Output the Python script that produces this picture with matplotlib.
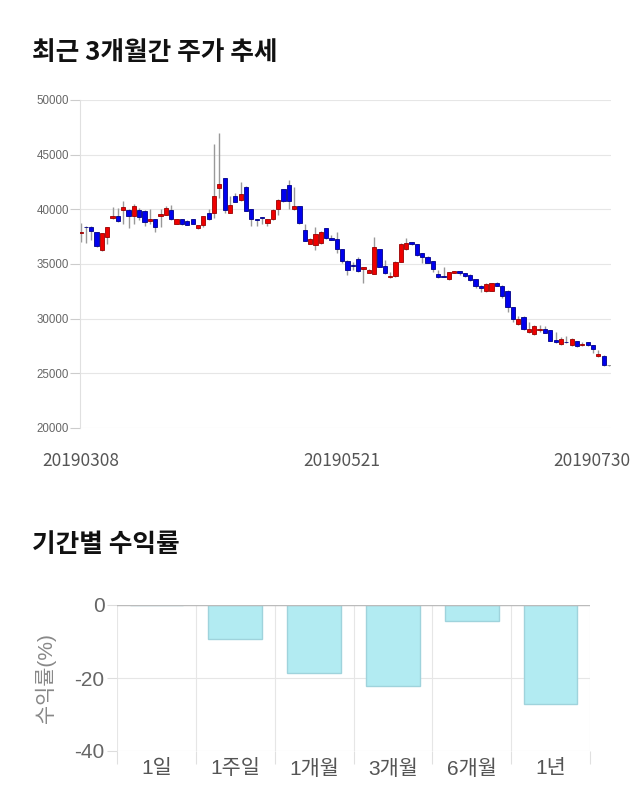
import matplotlib
matplotlib.use('Agg')
import matplotlib.pyplot as plt
import numpy as np
from matplotlib.transforms import ScaledTranslation

plt.rcParams['font.family'] = ['Noto Sans CJK KR', 'DejaVu Sans']

# ---------------- data ----------------
opens = [37800, 38400, 38400, 37900, 36300, 37450, 39250, 39400, 39900, 39950,
         39400, 39900, 39850, 38900, 39100, 39400, 39500, 39950, 38700, 39100,
         38950, 39100, 38250, 38550, 39650, 39700, 41980, 42840, 39700, 41220,
         40880, 42000, 40000, 39100, 39250, 38780, 39100, 40000, 41830, 42200,
         40000, 40300, 38110, 36850, 36700, 36885, 38260, 37370, 37250, 36340,
         35300, 34900, 35420, 34570, 34200, 34080, 36340, 34810, 33770, 33890,
         35180, 36340, 36980, 36825, 35970, 35665, 35240, 34050, 33850, 33590,
         34200, 34353, 34140, 33990, 33590, 32980, 32520, 32550, 33285, 33010,
         32550, 31030, 29500, 30175, 28770, 28560, 28955, 29100, 28955, 28040,
         27645, 27900, 27550, 27950, 27550, 27855, 27550, 26575, 26575, 25750]
closes = [37950, 38350, 38000, 36650, 37800, 38350, 39400, 38900, 40200, 39400,
          40300, 39300, 38850, 39100, 38400, 39550, 40100, 39100, 39100, 38650,
          38600, 38700, 38550, 39350, 39100, 41200, 42300, 39940, 40430, 40700,
          41400, 39880, 39100, 39050, 39200, 39100, 39940, 40850, 40730, 40730,
          40300, 38720, 37130, 37290, 37710, 37890, 37340, 37190, 36340, 35300,
          34445, 34810, 34385, 34690, 34445, 36520, 34750, 34140, 33920, 35210,
          36790, 36885, 36790, 35790, 35600, 35115, 34540, 33770, 33800, 34231,
          34353, 34140, 33896, 33530, 32980, 32770, 33130, 33225, 32980, 32060,
          31030, 29930, 29930, 29015, 29015, 29320, 29100, 28710, 27980, 27855,
          28100, 27850, 28160, 27490, 27675, 27550, 27245, 26760, 25720, 25720]
highs = [38750, 38450, 38450, 37950, 37850, 38400, 40200, 40150, 40750, 40000,
         40450, 40150, 39900, 40000, 39150, 40000, 40350, 40400, 39150, 39150,
         39000, 39150, 38600, 39400, 40000, 45950, 47000, 42900, 41220, 41450,
         42500, 42100, 40050, 39150, 39300, 39150, 40000, 40900, 41900, 42680,
         42000, 40350, 38650, 37350, 38350, 38050, 38300, 37650, 37950, 36400,
         35350, 35200, 35600, 34750, 34500, 37430, 36400, 35400, 34300, 35250,
         36950, 37350, 37050, 36850, 36000, 35700, 35300, 34450, 34690, 34300,
         34400, 34400, 34150, 34050, 33650, 33050, 33225, 33300, 33350, 33070,
         32600, 31100, 30240, 30200, 29720, 29400, 29400, 29320, 29000, 28800,
         28350, 28400, 28200, 28000, 27900, 27900, 27600, 27100, 26650, 25750]
lows = [37000, 36900, 37200, 36600, 36200, 36800, 39150, 38850, 38700, 38250,
        38700, 39000, 38500, 38700, 37950, 38350, 39450, 39050, 38650, 38600,
        38550, 38650, 38200, 38350, 39050, 39250, 41000, 39700, 39650, 40650,
        40800, 39850, 38470, 38500, 38650, 38470, 39050, 39450, 40700, 40000,
        39900, 38700, 37100, 36800, 36300, 36850, 37300, 37150, 36000, 35050,
        34000, 34450, 34300, 33300, 34150, 34050, 34700, 34100, 33750, 33850,
        35150, 36300, 36750, 35750, 35050, 35050, 34300, 33700, 33800, 33550,
        34150, 33950, 33850, 33400, 32770, 32450, 32450, 32500, 32950, 31850,
        30650, 29700, 29450, 28950, 28650, 28500, 28800, 28650, 27950, 27800,
        27600, 27800, 27500, 27450, 27500, 27500, 26900, 26450, 25700, 25700]
date_labels = ['20190308', '20190521', '20190730']
date_label_idx = [0, 49, 99]
price_ticks = [20000, 25000, 30000, 35000, 40000, 45000, 50000]

periods = ['1일', '1주일', '1개월', '3개월', '6개월', '1년']
returns = [0.0, -9.4, -18.5, -22.1, -4.3, -27.2]
return_ticks = [0, -20, -40]

ARIAL_KR = ['Liberation Sans', 'Noto Sans CJK KR']

# ---------------- figure ----------------
W, H = 640, 810
fig = plt.figure(figsize=(W / 100, H / 100), dpi=100)

fig.text(32 / W, 1 - 53 / H, '최근 3개월간 주가 추세', fontsize=18.5,
         fontweight='bold', ha='left', va='center', color='#111111')
fig.text(32 / W, 1 - 544 / H, '기간별 수익률', fontsize=18.5,
         fontweight='bold', ha='left', va='center', color='#111111')

# ---------- candlestick ----------
ax = fig.add_axes([80 / W, (H - 428) / H, 531 / W, 328 / H])
n = len(opens)
x = np.arange(n)
ax.vlines(x, lows, highs, color='#999999', lw=1, zorder=2)
for i in range(n):
    o, c = opens[i], closes[i]
    up = c >= o
    if i == n - 1:
        face, edge = '#888888', '#888888'
    else:
        face = '#ee0000' if up else '#0000ee'
        edge = '#990000' if up else '#000088'
    bottom = min(o, c)
    height = max(abs(c - o), 60)
    ax.bar(i, height, bottom=bottom, width=0.8, color=face,
           edgecolor=edge, lw=0.6, zorder=3)

ax.set_xlim(-0.1, n - 1 + 0.37)
ax.set_ylim(20000, 50000)
ax.set_yticks(price_ticks)
ax.set_yticklabels([str(v) for v in price_ticks], fontsize=8.3,
                   color='#666666', family=['Liberation Sans', 'DejaVu Sans'])
ax.tick_params(axis='y', length=7, color='#cccccc', pad=1, width=0.8)
ax.set_xticks(date_label_idx)
ax.set_xticklabels(date_labels, fontsize=12.5, color='#555555')
ax.tick_params(axis='x', length=0, pad=17)
lbls = ax.get_xticklabels()
lbls[-1].set_transform(lbls[-1].get_transform() +
                       ScaledTranslation(-17 / 100, 0, fig.dpi_scale_trans))
ax.grid(axis='y', color='#e6e6e6', lw=0.8, zorder=0)
for s in ['top', 'right', 'bottom']:
    ax.spines[s].set_visible(False)
ax.spines['left'].set_color('#e0e0e0')
ax.spines['left'].set_linewidth(0.8)
ax.set_axisbelow(True)

# ---------- returns bar ----------
ax2 = fig.add_axes([117 / W, (H - 751) / H, 473 / W, 146 / H])
xb = np.arange(len(periods))
ax2.bar(xb, returns, width=0.68, color='#b2ebf2', edgecolor='#9fd3dc',
        lw=1, zorder=3)
ax2.set_xlim(-0.5, len(periods) - 0.5)
ax2.set_ylim(-40, 0)
ax2.set_yticks(return_ticks)
ax2.set_yticklabels([str(v) for v in return_ticks], fontsize=15,
                    color='#666666', family=ARIAL_KR)
ax2.tick_params(axis='y', length=7, color='#dddddd', pad=2)
ax2.set_xticks(xb)
ax2.set_xticklabels(periods, fontsize=15, color='#555555', family=ARIAL_KR)
ax2.set_xticks(np.arange(-0.5, len(periods), 1), minor=True)
ax2.tick_params(axis='x', which='major', length=0, pad=6)
ax2.tick_params(axis='x', which='minor', length=9, color='#e0e0e0', width=0.8)
ax2.grid(axis='x', which='minor', color='#e6e6e6', lw=0.8, zorder=0)
ax2.grid(axis='y', color='#e6e6e6', lw=0.8, zorder=0)
ax2.axhline(0, color='#bbbbbb', lw=1, zorder=4)
for s in ['top', 'right', 'bottom', 'left']:
    ax2.spines[s].set_visible(False)
ax2.set_axisbelow(True)
fig.text(45 / W, 1 - 678 / H, '수익률(%)', rotation=90, fontsize=15,
         color='#888888', ha='center', va='center', family=ARIAL_KR)

fig.savefig('out.png', dpi=100)
